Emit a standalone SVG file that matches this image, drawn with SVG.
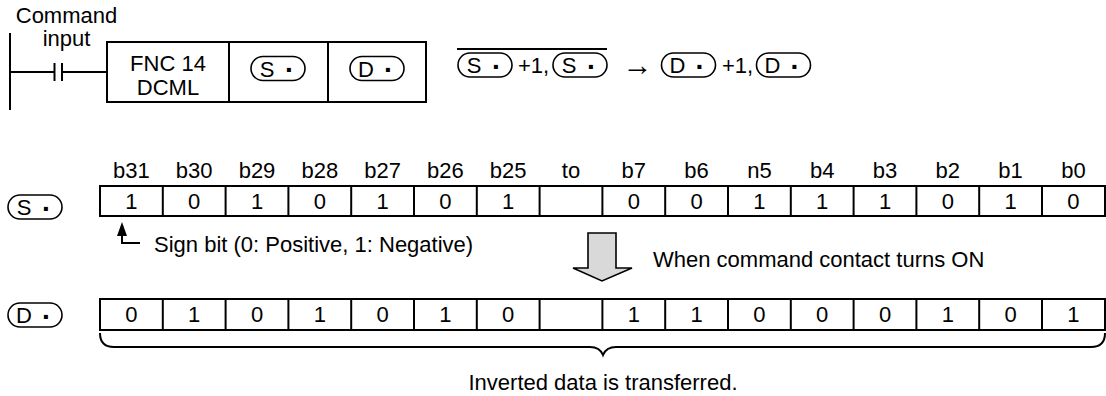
<svg xmlns="http://www.w3.org/2000/svg" width="1106" height="396" viewBox="0 0 1106 396">
<style>
text{font-family:"Liberation Sans",Arial,sans-serif;font-size:22px;fill:#000}
.m{text-anchor:middle}
.ln{fill:none;stroke:#000;stroke-width:2}
.ov{fill:#fff;stroke:#000;stroke-width:1.6}
.cell{fill:#fff;stroke:#000;stroke-width:2}
.dot{font-size:28px;font-weight:bold}
</style>
<defs>
<rect id="oval" class="ov" x="-27" y="-12" width="54" height="24" rx="12"/>
</defs>
<rect width="1106" height="396" fill="#fff"/>

<g id="connectors">
<line class="ln" x1="10" y1="33" x2="10" y2="110"/>
<line class="ln" x1="10" y1="72" x2="54.5" y2="72"/>
<line class="ln" x1="54.5" y1="63" x2="54.5" y2="81"/>
<line class="ln" x1="62" y1="63" x2="62" y2="81"/>
<line class="ln" x1="62" y1="72" x2="107" y2="72"/>
<path class="ln" d="M122,234 V243 H140"/>
<polygon points="122,222 117,236 127,236" fill="#000"/>
<path class="ln" d="M100,333 Q100,347 114,347 L590,347 C597,347 601,350 603,355 C605,350 609,347 616,347 L1091,347 Q1105,347 1105,333"/>
</g>

<g id="command-label">
<text class="m" x="66.5" y="23">Command</text>
<text class="m" x="66.5" y="46">input</text>
</g>

<g id="instruction">
<rect class="cell" x="107" y="42" width="319" height="60"/>
<line class="ln" x1="229" y1="42" x2="229" y2="102"/>
<line class="ln" x1="328" y1="42" x2="328" y2="102"/>
<text class="m" x="168" y="71">FNC 14</text>
<text class="m" x="168" y="95">DCML</text>
<use href="#oval" x="278" y="68.5"/>
<text><tspan class="m" x="267" y="76.5">S</tspan><tspan class="dot" x="285" y="79">·</tspan></text>
<use href="#oval" x="377" y="68.5"/>
<text><tspan class="m" x="366" y="76.5">D</tspan><tspan class="dot" x="384" y="79">·</tspan></text>
</g>

<g id="formula">
<line x1="457" y1="49" x2="607" y2="49" stroke="#000" stroke-width="2"/>
<use href="#oval" x="485" y="65"/>
<text><tspan class="m" x="474" y="73">S</tspan><tspan class="dot" x="492" y="75.5">·</tspan></text>
<text x="518" y="73">+1,</text>
<use href="#oval" x="580" y="65"/>
<text><tspan class="m" x="569" y="73">S</tspan><tspan class="dot" x="587" y="75.5">·</tspan></text>
<text class="m" x="637.5" y="75" style="font-size:30px">→</text>
<use href="#oval" x="688.5" y="65"/>
<text><tspan class="m" x="677.5" y="73">D</tspan><tspan class="dot" x="695.5" y="75.5">·</tspan></text>
<text x="722" y="73">+1,</text>
<use href="#oval" x="783.5" y="65"/>
<text><tspan class="m" x="772.5" y="73">D</tspan><tspan class="dot" x="790.5" y="75.5">·</tspan></text>
</g>

<g id="bit-labels">
<text class="m" x="131.4" y="177.5">b31</text>
<text class="m" x="194.2" y="177.5">b30</text>
<text class="m" x="257" y="177.5">b29</text>
<text class="m" x="319.8" y="177.5">b28</text>
<text class="m" x="382.6" y="177.5">b27</text>
<text class="m" x="445.4" y="177.5">b26</text>
<text class="m" x="508.2" y="177.5">b25</text>
<text class="m" x="571" y="177.5">to</text>
<text class="m" x="633.8" y="177.5">b7</text>
<text class="m" x="696.6" y="177.5">b6</text>
<text class="m" x="759.4" y="177.5">n5</text>
<text class="m" x="822.2" y="177.5">b4</text>
<text class="m" x="885" y="177.5">b3</text>
<text class="m" x="947.8" y="177.5">b2</text>
<text class="m" x="1010.6" y="177.5">b1</text>
<text class="m" x="1073.4" y="177.5">b0</text>
</g>

<g id="source-row">
<use href="#oval" x="35" y="207"/>
<text><tspan class="m" x="24" y="215">S</tspan><tspan class="dot" x="42" y="217.5">·</tspan></text>
<rect class="cell" x="100" y="186" width="1005" height="30"/>
<path class="ln" d="M162.8,186V216M225.6,186V216M288.4,186V216M351.2,186V216M414,186V216M476.8,186V216M539.6,186V216M602.4,186V216M665.2,186V216M728,186V216M790.8,186V216M853.6,186V216M916.4,186V216M979.2,186V216M1042,186V216"/>
<text class="m" x="131.4" y="208.5">1</text>
<text class="m" x="194.2" y="208.5">0</text>
<text class="m" x="257" y="208.5">1</text>
<text class="m" x="319.8" y="208.5">0</text>
<text class="m" x="382.6" y="208.5">1</text>
<text class="m" x="445.4" y="208.5">0</text>
<text class="m" x="508.2" y="208.5">1</text>
<text class="m" x="633.8" y="208.5">0</text>
<text class="m" x="696.6" y="208.5">0</text>
<text class="m" x="759.4" y="208.5">1</text>
<text class="m" x="822.2" y="208.5">1</text>
<text class="m" x="885" y="208.5">1</text>
<text class="m" x="947.8" y="208.5">0</text>
<text class="m" x="1010.6" y="208.5">1</text>
<text class="m" x="1073.4" y="208.5">0</text>
</g>

<g id="sign-note">
<text x="154" y="251.5">Sign bit (0: Positive, 1: Negative)</text>
</g>

<g id="transfer-arrow">
<polygon points="588,233 616,233 616,268 632,268 602,281 573,268 588,268" fill="#d9d9d9" stroke="#000" stroke-width="1.6" stroke-linejoin="miter"/>
<text x="653" y="267">When command contact turns ON</text>
</g>

<g id="dest-row">
<use href="#oval" x="35" y="315"/>
<text><tspan class="m" x="24" y="323">D</tspan><tspan class="dot" x="42" y="325.5">·</tspan></text>
<rect class="cell" x="100" y="299" width="1005" height="31"/>
<path class="ln" d="M162.8,299V330M225.6,299V330M288.4,299V330M351.2,299V330M414,299V330M476.8,299V330M539.6,299V330M602.4,299V330M665.2,299V330M728,299V330M790.8,299V330M853.6,299V330M916.4,299V330M979.2,299V330M1042,299V330"/>
<text class="m" x="131.4" y="322">0</text>
<text class="m" x="194.2" y="322">1</text>
<text class="m" x="257" y="322">0</text>
<text class="m" x="319.8" y="322">1</text>
<text class="m" x="382.6" y="322">0</text>
<text class="m" x="445.4" y="322">1</text>
<text class="m" x="508.2" y="322">0</text>
<text class="m" x="633.8" y="322">1</text>
<text class="m" x="696.6" y="322">1</text>
<text class="m" x="759.4" y="322">0</text>
<text class="m" x="822.2" y="322">0</text>
<text class="m" x="885" y="322">0</text>
<text class="m" x="947.8" y="322">1</text>
<text class="m" x="1010.6" y="322">0</text>
<text class="m" x="1073.4" y="322">1</text>
</g>

<g id="brace-note">
<text class="m" x="603" y="390">Inverted data is transferred.</text>
</g>
</svg>
